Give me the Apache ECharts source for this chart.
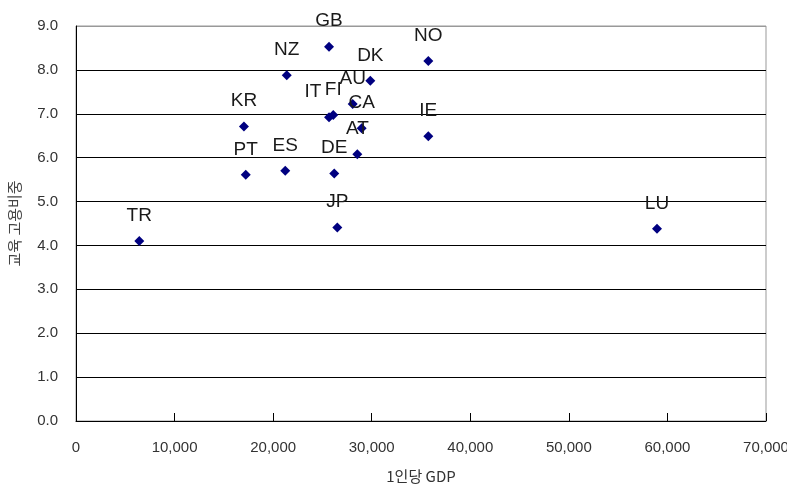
<!DOCTYPE html>
<html>
<head>
<meta charset="utf-8">
<script src="https://cdn.jsdelivr.net/npm/echarts@6/dist/echarts.min.js"></script>
<style>
  html, body { margin: 0; padding: 0; background: #fff; }
  #chart { width: 787px; height: 491px; }
</style>
</head>
<body>
<div id="chart"></div>
<script>
  // 국가별 1인당 GDP 와 교육 고용비중
  var countries = ['TR', 'KR', 'PT', 'NZ', 'ES', 'GB', 'IT', 'FI', 'DE', 'JP', 'AU', 'AT', 'CA', 'DK', 'NO', 'IE', 'LU'];
  var gdp = [6420, 17040, 17220, 21380, 21230, 25670, 25670, 26100, 26200, 26510, 28070, 28540, 28980, 29860, 35740, 35740, 58940];
  var share = [4.10, 6.71, 5.61, 7.88, 5.70, 8.53, 6.92, 6.97, 5.64, 4.41, 7.22, 6.08, 6.67, 7.75, 8.20, 6.49, 4.38];
  var labelShift = { IT: [-16, 0] };

  var chart = echarts.init(document.getElementById('chart'));

  var points = countries.map(function (c, i) {
    var p = { name: c, value: [gdp[i], share[i]] };
    if (labelShift[c]) p.label = { offset: labelShift[c] };
    return p;
  });

  var option = {
    animation: false,
    textStyle: { fontFamily: '"Liberation Sans", Arial, sans-serif' },
    grid: {
      left: 76, right: 21, top: 26, bottom: 70,
      outerBoundsMode: 'none',
      containLabel: false,
      show: true, borderColor: '#999', borderWidth: 1
    },
    xAxis: {
      type: 'value',
      min: 0, max: 70000, interval: 10000,
      name: '1인당 GDP',
      nameLocation: 'middle',
      nameGap: 48,
      nameTextStyle: { fontFamily: '"Noto Sans CJK KR", sans-serif', fontSize: 15, color: '#333' },
      axisLine: { show: true, lineStyle: { color: '#000', width: 1 } },
      axisTick: { show: true, inside: true, length: 8, lineStyle: { color: '#000' } },
      axisLabel: {
        margin: 19, fontSize: 15, color: '#333',
        formatter: function (v) { return v.toLocaleString('en-US'); }
      },
      splitLine: { show: false }
    },
    yAxis: {
      type: 'value',
      min: 0, max: 9, interval: 1,
      name: '교육 고용비중',
      nameLocation: 'middle',
      nameGap: 54,
      nameTextStyle: { fontFamily: '"Noto Sans CJK KR", sans-serif', fontSize: 15, color: '#444' },
      axisLine: { show: true, lineStyle: { color: '#000', width: 1 } },
      axisTick: { show: false },
      axisLabel: {
        margin: 18, fontSize: 15, color: '#333',
        formatter: function (v) { return v.toFixed(1); }
      },
      splitLine: {
        show: true,
        lineStyle: { color: ['#000', '#000', '#000', '#000', '#000', '#000', '#000', '#000', '#000', '#999'], width: 1 }
      }
    },
    series: [{
      type: 'scatter',
      symbol: 'diamond',
      symbolSize: 10,
      itemStyle: { color: '#000080', opacity: 1 },
      label: {
        show: true,
        position: 'top',
        distance: 11,
        formatter: '{b}',
        fontSize: 19,
        color: '#1a1a1a'
      },
      data: points
    }]
  };

  chart.setOption(option);
</script>
</body>
</html>
